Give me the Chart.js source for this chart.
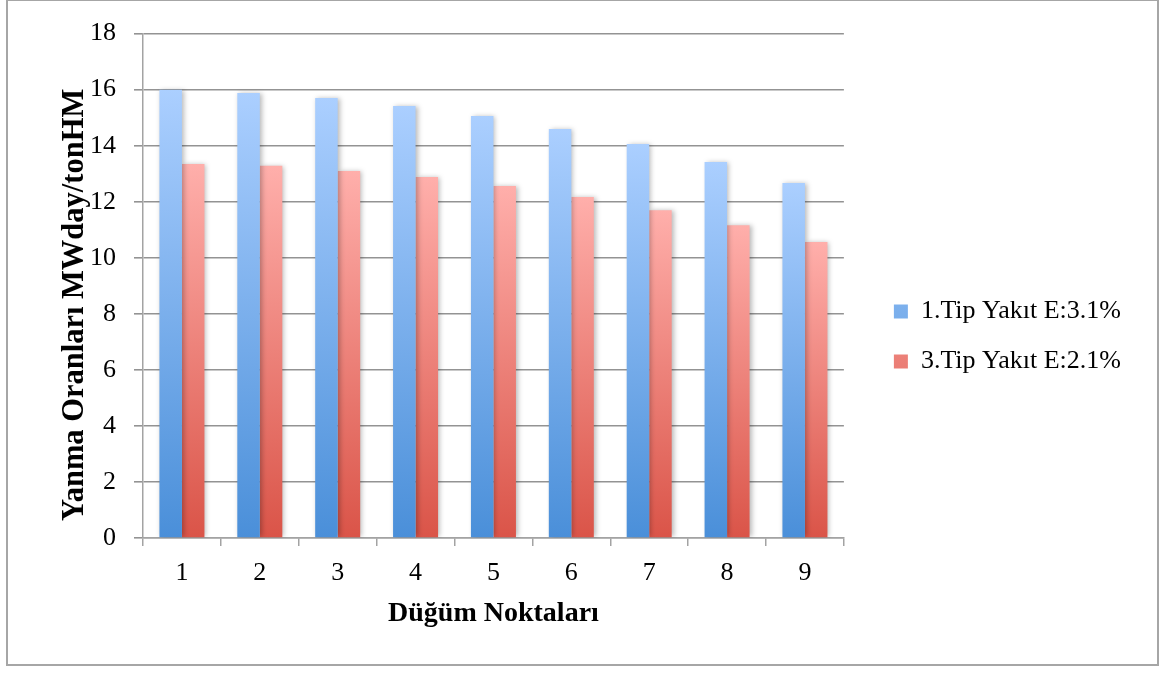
<!DOCTYPE html>
<html>
<head>
<meta charset="utf-8">
<script src="https://cdn.jsdelivr.net/npm/chart.js@4.4.1/dist/chart.umd.min.js"></script>
<style>
  html, body { margin: 0; padding: 0; background: #fff; }
  #wrap { width: 1162px; height: 673px; position: relative; }
</style>
</head>
<body>
<div id="wrap"><canvas id="c"></canvas></div>
<script>
const categories = ['1', '2', '3', '4', '5', '6', '7', '8', '9'];
const seriesNames = ['1.Tip Yakıt E:3.1%', '3.Tip Yakıt E:2.1%'];
const tip1Values = [16.0, 15.88, 15.7, 15.42, 15.06, 14.6, 14.06, 13.42, 12.67];
const tip3Values = [13.35, 13.28, 13.1, 12.88, 12.56, 12.17, 11.7, 11.16, 10.56];
const yTicks = { min: 0, max: 18, step: 2 };
const xTitle = 'Düğüm Noktaları';
const yTitle = 'Yanma Oranları MWday/tonHM';

const FONT = "'Liberation Serif', 'Times New Roman', serif";

function barGradient(ctx, top, bottom, solid) {
  const chart = ctx.chart;
  if (!chart.chartArea || ctx.type !== 'data' || !ctx.parsed) return solid;
  const ys = chart.scales.y;
  const y0 = ys.getPixelForValue(ctx.parsed.y);
  const y1 = ys.getPixelForValue(0);
  const g = chart.ctx.createLinearGradient(0, y0, 0, y1);
  g.addColorStop(0, top);
  g.addColorStop(1, bottom);
  return g;
}

const framePlugin = {
  id: 'frame',
  beforeDraw(chart) {
    const c = chart.ctx;
    c.save();
    c.fillStyle = '#ffffff';
    c.fillRect(0, 0, chart.width, chart.height);
    c.strokeStyle = '#a6a6a6';
    c.lineWidth = 2;
    c.strokeRect(7, 0, 1151, 665);
    c.restore();
  }
};

const shadowPlugin = {
  id: 'barShadow',
  beforeDatasetsDraw(chart) {
    const c = chart.ctx;
    c.save();
    c.shadowColor = 'rgba(0,0,0,0.28)';
    c.shadowBlur = 5;
    c.shadowOffsetX = 2;
    c.shadowOffsetY = 0;
  },
  afterDatasetsDraw(chart) {
    chart.ctx.restore();
  }
};

new Chart(document.getElementById('c'), {
  type: 'bar',
  data: {
    labels: categories,
    datasets: [
      {
        label: seriesNames[0],
        data: tip1Values,
        backgroundColor: ctx => barGradient(ctx, '#abcfff', '#4a8fd9', '#78aaea'),
        borderWidth: 0,
        categoryPercentage: 0.578,
        barPercentage: 1.0
      },
      {
        label: seriesNames[1],
        data: tip3Values,
        backgroundColor: ctx => barGradient(ctx, '#ffafab', '#da5448', '#ee817a'),
        borderWidth: 0,
        categoryPercentage: 0.578,
        barPercentage: 1.0
      }
    ]
  },
  options: {
    responsive: true,
    maintainAspectRatio: false,
    animation: false,
    devicePixelRatio: 1,
    layout: { padding: { top: 18, bottom: 18, left: 55, right: 31 } },
    plugins: {
      tooltip: { enabled: false },
      legend: {
        position: 'right',
        align: 'center',
        maxWidth: 400,
        labels: {
          boxWidth: 14,
          boxHeight: 14,
          padding: 24,
          color: '#000',
          font: { family: FONT, size: 26 }
        }
      }
    },
    scales: {
      x: {
        offset: true,
        grid: {
          display: true,
          offset: true,
          drawOnChartArea: false,
          drawTicks: true,
          tickLength: 8,
          color: '#a3a3a3',
          lineWidth: 1.5
        },
        border: { display: true, color: '#a3a3a3', width: 1.5 },
        ticks: {
          color: '#000',
          padding: 12,
          font: { family: FONT, size: 26 }
        },
        title: {
          display: true,
          text: xTitle,
          color: '#000',
          font: { family: FONT, size: 28, weight: 'bold' },
          padding: { top: 0, bottom: 24 }
        },
        afterFit(scale) { scale.height = 117; }
      },
      y: {
        min: yTicks.min,
        max: yTicks.max,
        ticks: {
          stepSize: yTicks.step,
          color: '#000',
          padding: 18,
          font: { family: FONT, size: 26 }
        },
        grid: {
          color: '#939393',
          lineWidth: 1.6,
          drawTicks: true,
          tickLength: 9
        },
        border: { display: true, color: '#a3a3a3', width: 1.5 },
        title: {
          display: true,
          text: yTitle + '     ',
          color: '#000',
          font: { family: FONT, size: 30.5, weight: 'bold', lineHeight: 1 },
          padding: { top: 5, bottom: 0 }
        },
        afterFit(scale) { scale.width = 88; }
      },
      gap: {
        type: 'linear',
        position: 'right',
        display: true,
        grid: { display: false, drawTicks: false },
        border: { display: false },
        ticks: { display: false },
        afterFit(scale) { scale.width = 26; }
      }
    }
  },
  plugins: [framePlugin, shadowPlugin]
});
</script>
</body>
</html>
